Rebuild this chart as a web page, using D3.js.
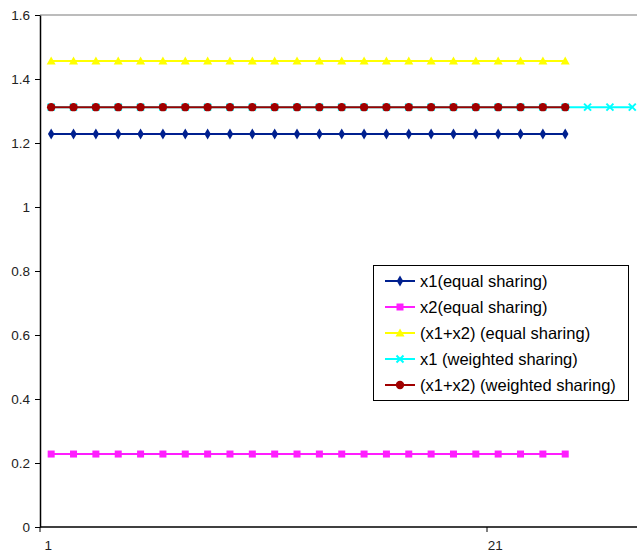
<!DOCTYPE html>
<html>
<head>
<meta charset="utf-8">
<script src="https://cdn.jsdelivr.net/npm/d3@7"></script>
<style>
  body { margin: 0; background: #fff; }
  text { font-family: "Liberation Sans", Arial, sans-serif; }
</style>
</head>
<body>
<div id="chart"></div>
<script>
// categories on the x axis
var categories = [1, 2, 3, 4, 5, 6, 7, 8, 9, 10, 11, 12, 13, 14, 15, 16, 17, 18, 19, 20, 21, 22, 23, 24, 25, 26, 27];
var xTickLabels = [1, 21];
var yTicks = [0, 0.2, 0.4, 0.6, 0.8, 1, 1.2, 1.4, 1.6];

// series values
var x1Equal = [1.228, 1.228, 1.228, 1.228, 1.228, 1.228, 1.228, 1.228, 1.228, 1.228, 1.228, 1.228,
               1.228, 1.228, 1.228, 1.228, 1.228, 1.228, 1.228, 1.228, 1.228, 1.228, 1.228, 1.228];
var x2Equal = [0.228, 0.228, 0.228, 0.228, 0.228, 0.228, 0.228, 0.228, 0.228, 0.228, 0.228, 0.228,
               0.228, 0.228, 0.228, 0.228, 0.228, 0.228, 0.228, 0.228, 0.228, 0.228, 0.228, 0.228];
var sumEqual = [1.456, 1.456, 1.456, 1.456, 1.456, 1.456, 1.456, 1.456, 1.456, 1.456, 1.456, 1.456,
                1.456, 1.456, 1.456, 1.456, 1.456, 1.456, 1.456, 1.456, 1.456, 1.456, 1.456, 1.456];
var x1Weighted = [1.312, 1.312, 1.312, 1.312, 1.312, 1.312, 1.312, 1.312, 1.312, 1.312, 1.312, 1.312,
                  1.312, 1.312, 1.312, 1.312, 1.312, 1.312, 1.312, 1.312, 1.312, 1.312, 1.312, 1.312,
                  1.312, 1.312, 1.312];
var sumWeighted = [1.312, 1.312, 1.312, 1.312, 1.312, 1.312, 1.312, 1.312, 1.312, 1.312, 1.312, 1.312,
                   1.312, 1.312, 1.312, 1.312, 1.312, 1.312, 1.312, 1.312, 1.312, 1.312, 1.312, 1.312];

var series = [
  {name: "x1(equal sharing)", values: x1Equal, color: "#00208f", marker: "diamond"},
  {name: "x2(equal sharing)", values: x2Equal, color: "#ff1eff", marker: "square"},
  {name: "(x1+x2) (equal sharing)", values: sumEqual, color: "#ffff00", marker: "triangle"},
  {name: "x1 (weighted sharing)", values: x1Weighted, color: "#00ffff", marker: "cross"},
  {name: "(x1+x2) (weighted sharing)", values: sumWeighted, color: "#a00000", marker: "circle"}
];

var width = 637, height = 555;
var plotLeft = 40, plotTop = 15, plotBottom = 527;
var catWidth = 22.35;

var svg = d3.select("#chart").append("svg")
    .attr("width", width)
    .attr("height", height);

var x = d3.scaleBand()
    .domain(categories)
    .range([plotLeft, plotLeft + categories.length * catWidth])
    .padding(0);

var y = d3.scaleLinear()
    .domain([0, 1.6])
    .range([plotBottom, plotTop]);

function cx(c) { return x(c) + x.bandwidth() / 2; }

//plot area top border
svg.append("line")
    .attr("x1", plotLeft).attr("x2", width)
    .attr("y1", y(1.6)).attr("y2", y(1.6))
    .attr("stroke", "#a6a6a6")
    .attr("stroke-width", 1.5);

//y axis
var yAxis = svg.append("g")
    .attr("transform", "translate(" + plotLeft + ",0)")
    .call(d3.axisLeft(y).tickValues(yTicks).tickSize(5).tickSizeOuter(0).tickPadding(5)
      .tickFormat(function(d) { return String(+d.toFixed(1)); }));
yAxis.select(".domain").attr("stroke", "#000").attr("stroke-width", 1.5);
yAxis.selectAll(".tick line").attr("stroke", "#000");
yAxis.selectAll(".tick text")
    .attr("font-size", "13.5px")
    .attr("fill", "#222")
    .style("font-family", "'Liberation Sans', Arial, sans-serif");

//x axis: ticks on category boundaries, labels centred on categories
var xg = svg.append("g");
xg.append("line")
    .attr("x1", plotLeft).attr("x2", width)
    .attr("y1", plotBottom).attr("y2", plotBottom)
    .attr("stroke", "#000")
    .attr("stroke-width", 1.5);
xg.selectAll(".xtick")
    .data(xTickLabels)
  .enter().append("line")
    .attr("x1", function(d) { return x(d); })
    .attr("x2", function(d) { return x(d); })
    .attr("y1", plotBottom)
    .attr("y2", plotBottom + 5)
    .attr("stroke", "#000");
xg.selectAll(".xlabel")
    .data(xTickLabels)
  .enter().append("text")
    .attr("x", function(d) { return cx(d) - 3; })
    .attr("y", plotBottom + 23)
    .attr("text-anchor", "middle")
    .attr("font-size", "13.5px")
    .attr("fill", "#222")
    .text(function(d) { return d; });

//marker drawing
function drawMarker(g, type, color, px, py) {
  if (type === "diamond") {
    g.append("path").attr("d", d3.symbol(d3.symbolDiamond, 36)())
      .attr("transform", "translate(" + px + "," + py + ")").attr("fill", color);
  } else if (type === "square") {
    g.append("rect").attr("x", px - 3.5).attr("y", py - 3.5).attr("width", 7).attr("height", 7)
      .attr("fill", color);
  } else if (type === "triangle") {
    g.append("path").attr("d", "M" + px + "," + (py - 4.5) + "L" + (px + 4.5) + "," + (py + 3.5) + "L" + (px - 4.5) + "," + (py + 3.5) + "Z")
      .attr("fill", color);
  } else if (type === "cross") {
    g.append("path").attr("d", "M" + (px - 3.5) + "," + (py - 3.5) + "L" + (px + 3.5) + "," + (py + 3.5) +
      "M" + (px + 3.5) + "," + (py - 3.5) + "L" + (px - 3.5) + "," + (py + 3.5))
      .attr("stroke", color).attr("stroke-width", 2).attr("fill", "none");
  } else if (type === "circle") {
    g.append("circle").attr("cx", px).attr("cy", py).attr("r", 4.2).attr("fill", color);
  }
}

var line = d3.line()
    .x(function(d, i) { return cx(categories[i]); })
    .y(function(d) { return y(d); });

//draw order: cyan under red
var drawOrder = [3, 0, 1, 2, 4];
drawOrder.forEach(function(k) {
  var s = series[k];
  var g = svg.append("g");
  g.append("path")
    .datum(s.values)
    .attr("d", line)
    .attr("fill", "none")
    .attr("stroke", s.color)
    .attr("stroke-width", 2);
  s.values.forEach(function(v, i) {
    drawMarker(g, s.marker, s.color, cx(categories[i]), y(v));
  });
});

//legend
var legend = svg.append("g");
legend.append("rect")
    .attr("x", 373.5).attr("y", 265.5)
    .attr("width", 255).attr("height", 135)
    .attr("fill", "#fff")
    .attr("stroke", "#000")
    .attr("stroke-width", 1);

series.forEach(function(s, i) {
  var ly = 281 + i * 26;
  legend.append("line")
    .attr("x1", 385).attr("x2", 415)
    .attr("y1", ly).attr("y2", ly)
    .attr("stroke", s.color)
    .attr("stroke-width", 2);
  drawMarker(legend, s.marker, s.color, 400, ly);
  legend.append("text")
    .attr("x", 420)
    .attr("y", ly + 6)
    .attr("font-size", "16.5px")
    .attr("fill", "#000")
    .text(s.name);
});
</script>
</body>
</html>
